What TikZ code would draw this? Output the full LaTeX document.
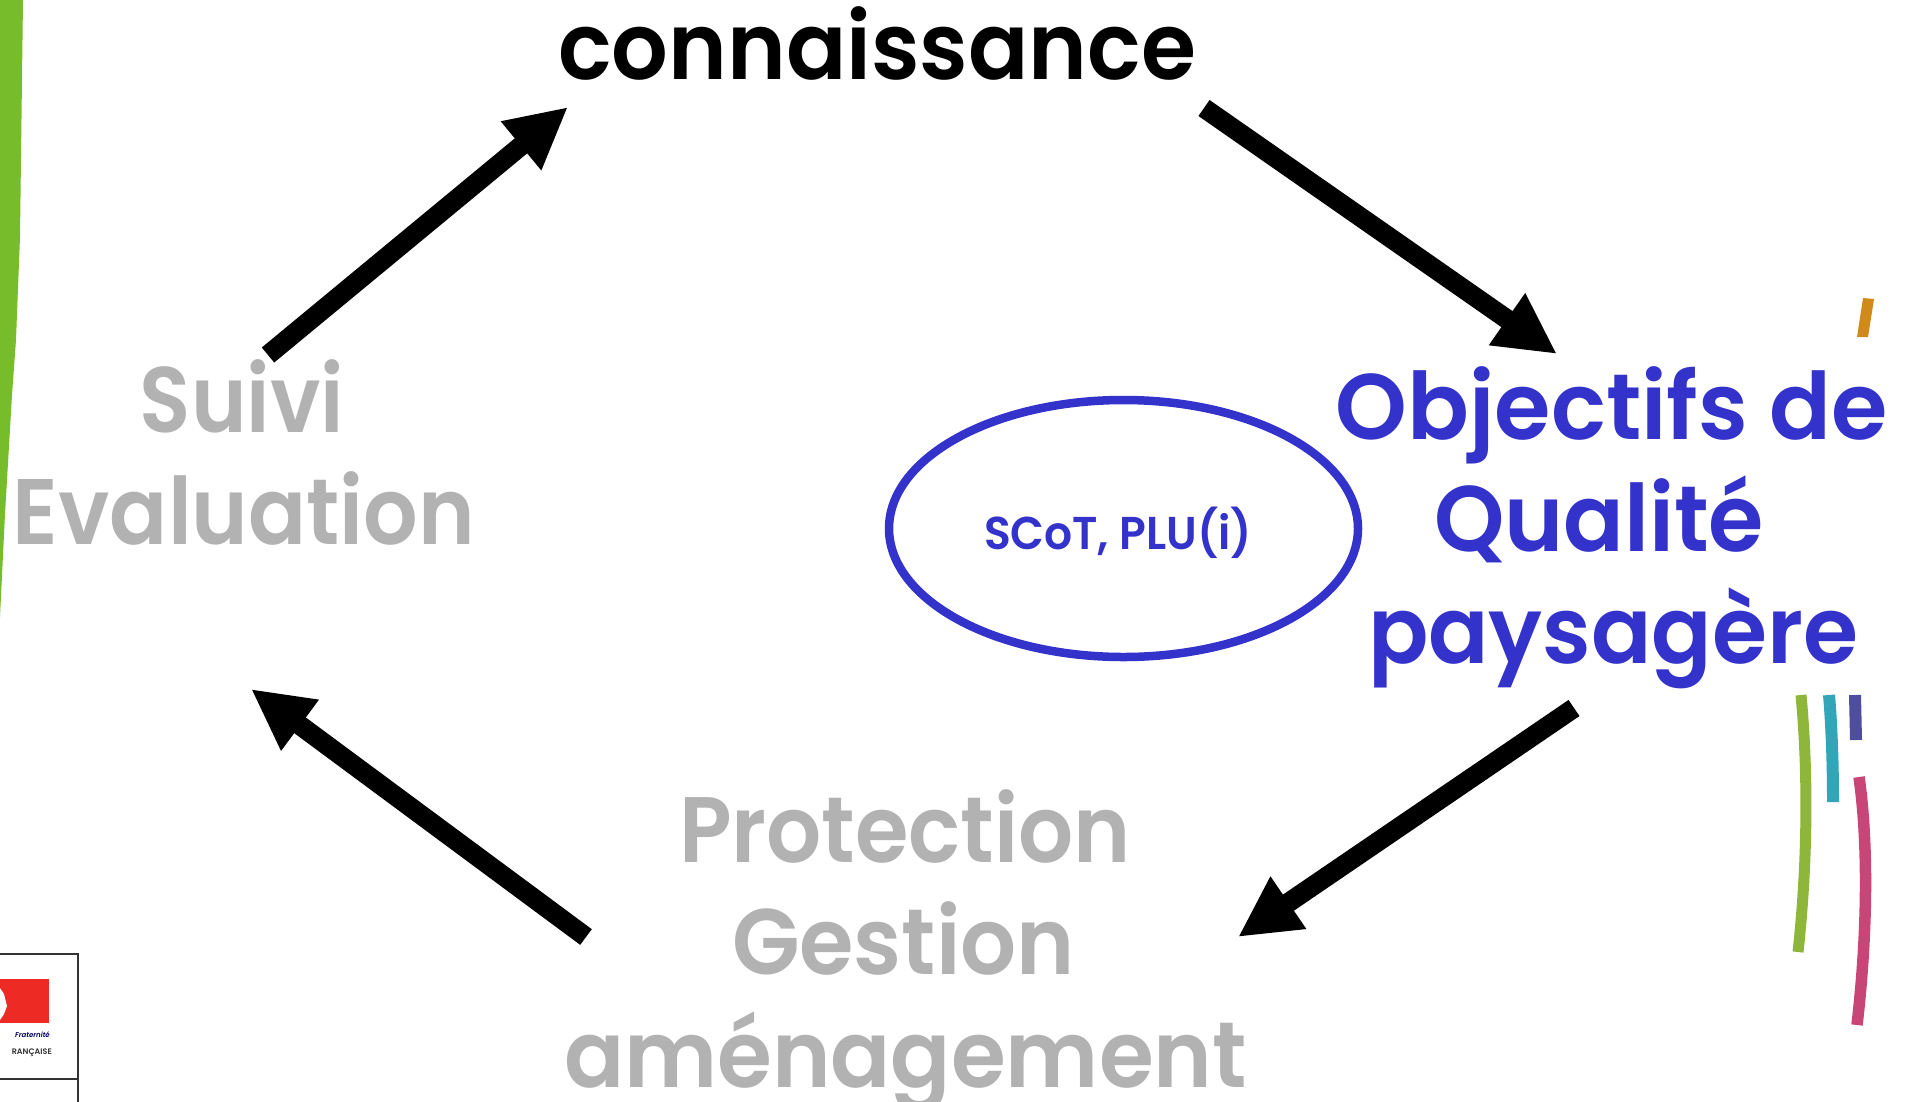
\documentclass[tikz,border=0pt]{standalone}
\usepackage{fontspec}
\usepackage{graphicx}
\setmainfont{Poppins SemiBold}
\usetikzlibrary{arrows.meta,shapes.geometric}
\definecolor{qblue}{HTML}{3333CC}
\definecolor{qgrey}{HTML}{B2B2B2}
\definecolor{qgreen}{HTML}{76BC2B}
\definecolor{qstripg}{HTML}{8DB63A}
\definecolor{qstripc}{HTML}{31A6B8}
\definecolor{qstripp}{HTML}{4E4E9E}
\definecolor{qstripr}{HTML}{C84578}
\definecolor{qstripo}{HTML}{D08A1A}
\definecolor{qred}{HTML}{EE2A24}
\newcommand{\fitw}[2]{\resizebox{#1}{\height}{#2}}
\tikzset{
  big/.style={font=\fontsize{93}{110}\selectfont, inner sep=0pt, anchor=base},
  flow/.style={line width=19.5pt, -{Triangle[length=61pt,width=59pt]}},
  strip/.style={line width=11pt, line cap=butt},
}
\begin{document}
\begin{tikzpicture}[x=1pt,y=-1pt]
\useasboundingbox (0,0) rectangle (1908,1101);
\fill[white] (0,0) rectangle (1908,1101);
% left band
\fill[qgreen] (0,0) -- (23,0) -- (20,237) -- (16,340) -- (12,395) -- (5,514) -- (0,617) -- cycle;
% right strips
\fill[qstripo] (1863,298) -- (1874,299) -- (1868,337) -- (1857,337) -- cycle;
\draw[strip,color=qstripg] (1801,695) .. controls (1808,770) and (1808,860) .. (1798,952);
\draw[strip,color=qstripc,line width=12pt] (1829,695) .. controls (1832,730) and (1833,770) .. (1833,802);
\draw[strip,color=qstripp,line width=12pt] (1855,695) -- (1856,740);
\draw[strip,color=qstripr,line width=11.5pt] (1859,777) .. controls (1868,840) and (1868,930) .. (1857,1025);
% logo
\begin{scope}
\clip (0,950) rectangle (80,1101);
\draw[line width=1.6pt,color=black!80] (-5,954) -- (78,954) -- (78,1105);
\draw[line width=1.6pt,color=black!80] (-5,1079) -- (78,1079);
\fill[qred] (0,979) rectangle (49,1023);
\fill[white] (0,988) -- (4,994) -- (7,1006) -- (4,1014) -- (0,1020) -- cycle;
\node[anchor=east,inner sep=0pt,font=\itshape\fontsize{7}{8}\selectfont,color=blue!40!black] (frat) at (50,1035) {Fraternité};
\node[anchor=east,inner sep=0pt,font=\fontsize{8}{9}\selectfont,color=black!80] (fr) at (52,1053) {RANÇAISE};
\end{scope}
% text
\node[big,color=black] (know) at (877,79) {\fitw{638pt}{connaissance}};
\node[big,color=qblue] (obj1) at (1612,439) {\fitw{552pt}{Objectifs de}};
\node[big,color=qblue] (obj2) at (1599,551) {\fitw{330pt}{Qualité}};
\node[big,color=qblue] (obj3) at (1613,663) {\fitw{490pt}{paysagère}};
\node[big,color=qgrey] (prot1) at (905,862) {\fitw{452pt}{Protection}};
\node[big,color=qgrey] (prot2) at (903.5,974) {\fitw{343pt}{Gestion}};
\node[big,color=qgrey] (prot3) at (905.5,1087) {\fitw{683pt}{aménagement}};
\node[big,color=qgrey] (suivi1) at (242,432) {\fitw{204pt}{Suivi}};
\node[big,color=qgrey] (suivi2) at (244,544) {\fitw{462pt}{Evaluation}};
\node[draw=qblue,line width=8.5pt,ellipse,minimum width=469pt,minimum height=257pt,inner sep=0pt] (scot) at (1123.5,528.5) {};
\node[anchor=base,inner sep=0pt,color=qblue,font=\fontsize{46}{54}\selectfont] (scottext) at (1118,549) {\fitw{268pt}{SCoT, PLU(i)}};
\fill[white] (1225,558.5) rectangle (1262,580);
% connectors
\coordinate (a1) at (268,355); \coordinate (a2) at (568,107);
\coordinate (b1) at (1204,108); \coordinate (b2) at (1557,354);
\coordinate (c1) at (1574,708); \coordinate (c2) at (1238,937);
\coordinate (d1) at (586,937); \coordinate (d2) at (251,689);
\draw[flow] (a1) -- (a2);
\draw[flow] (b1) -- (b2);
\draw[flow] (c1) -- (c2);
\draw[flow] (d1) -- (d2);
\end{tikzpicture}
\end{document}
